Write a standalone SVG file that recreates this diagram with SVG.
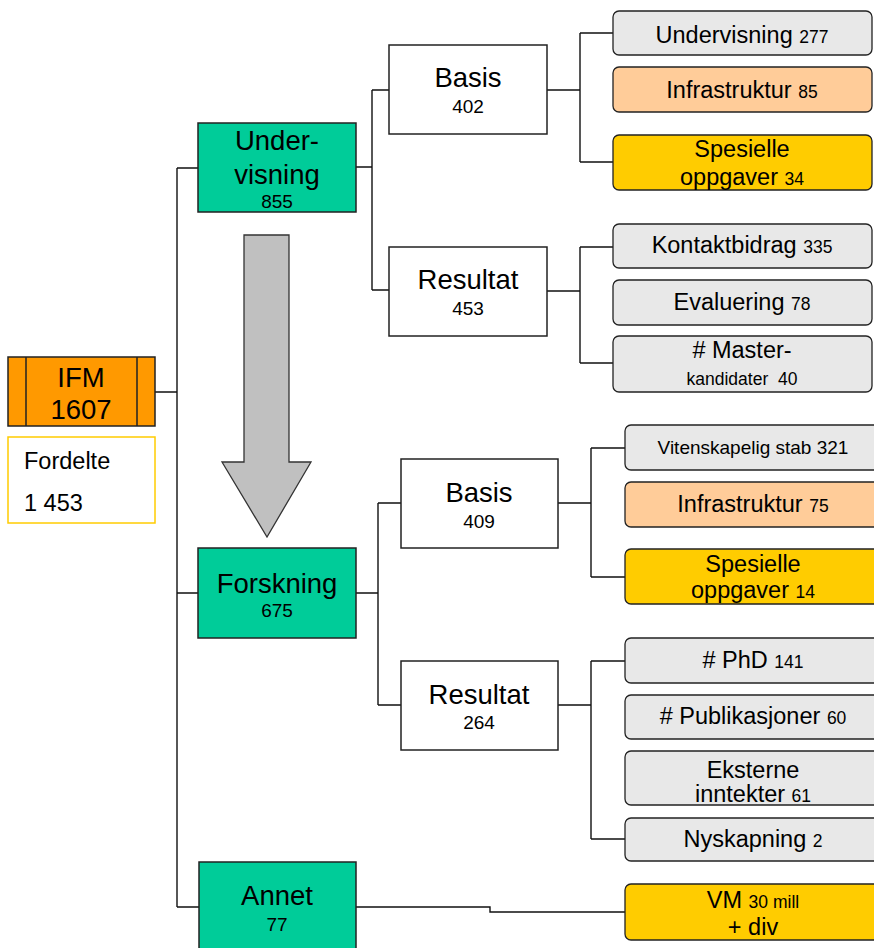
<svg xmlns="http://www.w3.org/2000/svg" width="874" height="948" viewBox="0 0 874 948">
<style>
text{font-family:"Liberation Sans",Arial,sans-serif;fill:#000;text-anchor:middle}
.big{font-size:27.5px}
.mid{font-size:23.5px}
.num{font-size:19px}
.sm{font-size:17.5px}
.box{stroke:#222;stroke-width:1.5}
.green{fill:#00CC99}
.white{fill:#fff}
.leaf{stroke:#222;stroke-width:1.3}
.gray{fill:#E8E8E8}
.peach{fill:#FFCC99}
.gold{fill:#FFCC00}
.conn path{fill:none;stroke:#111;stroke-width:1.4}
</style>
<rect width="874" height="948" fill="#fff"/>
<g id="connectors" class="conn">
<path d="M154 392H177M177 168V907M177 168H198M177 593H198M177 907H199"/>
<path d="M356 167H372M372 90V290M372 90H389M372 290H389"/>
<path d="M547 90H580M580 33V162M580 33H613M580 162H613"/>
<path d="M547 291H580M580 247V363M580 247H613M580 363H613"/>
<path d="M356 593H378M378 503V705M378 503H401M378 705H401"/>
<path d="M558 503H591M591 448V577M591 448H625M591 577H625"/>
<path d="M558 705H591M591 661V839M591 661H625M591 839H625"/>
<path d="M356 907H490V912H625"/>
</g>
<g id="arrow">
<polygon points="244,235 289,235 289,462 311,462 267,537 222,462 244,462" fill="#C0C0C0" stroke="#333" stroke-width="1.3"/>
</g>
<g id="ifm">
<rect x="8" y="357" width="147" height="69" fill="#FF9900" class="box"/>
<path d="M26 357V426M137 357V426" stroke="#222" stroke-width="1.5"/>
<text x="81" y="387" class="big">IFM</text>
<text x="81" y="419" class="big">1607</text>
</g>
<g id="fordelte">
<rect x="8" y="437" width="147" height="86" fill="#fff" stroke="#FFCC00" stroke-width="1.5"/>
<text x="24" y="469" style="font-size:23.5px;text-anchor:start">Fordelte</text>
<text x="24" y="511" style="font-size:23.5px;text-anchor:start">1 453</text>
</g>
<g id="undervisning">
<rect x="198" y="123" width="158" height="89" class="box green"/>
<text x="277" y="150" class="big">Under-</text>
<text x="277" y="184" class="big">visning</text>
<text x="277" y="208" class="num">855</text>
</g>
<g id="basis1">
<rect x="389" y="45" width="158" height="89" class="box white"/>
<text x="468" y="87" class="big">Basis</text>
<text x="468" y="113" class="num">402</text>
</g>
<g id="resultat1">
<rect x="389" y="247" width="158" height="89" class="box white"/>
<text x="468" y="289" class="big">Resultat</text>
<text x="468" y="315" class="num">453</text>
</g>
<g id="forskning">
<rect x="198" y="548" width="158" height="90" class="box green"/>
<text x="277" y="593" class="big">Forskning</text>
<text x="277" y="617" class="num">675</text>
</g>
<g id="basis2">
<rect x="401" y="459" width="157" height="89" class="box white"/>
<text x="479" y="502" class="big">Basis</text>
<text x="479" y="528" class="num">409</text>
</g>
<g id="resultat2">
<rect x="401" y="661" width="157" height="89" class="box white"/>
<text x="479" y="704" class="big">Resultat</text>
<text x="479" y="729" class="num">264</text>
</g>
<g id="annet">
<rect x="199" y="862" width="157" height="100" class="box green"/>
<text x="277" y="905" class="big">Annet</text>
<text x="277" y="931" class="num">77</text>
</g>
<g id="leaf-undervisning">
<rect x="613" y="11" width="259" height="44" rx="6" class="leaf gray"/>
<text x="742" y="43" class="mid">Undervisning <tspan class="sm">277</tspan></text>
</g>
<g id="leaf-infra85">
<rect x="613" y="67" width="259" height="45" rx="6" class="leaf peach"/>
<text x="742" y="98" class="mid">Infrastruktur <tspan class="sm">85</tspan></text>
</g>
<g id="leaf-spes34">
<rect x="613" y="135" width="259" height="55" rx="6" class="leaf gold"/>
<text x="742" y="157" class="mid">Spesielle</text>
<text x="742" y="185" class="mid">oppgaver <tspan class="sm">34</tspan></text>
</g>
<g id="leaf-kontakt">
<rect x="613" y="224" width="259" height="44" rx="6" class="leaf gray"/>
<text x="742" y="253" class="mid">Kontaktbidrag <tspan class="sm">335</tspan></text>
</g>
<g id="leaf-eval">
<rect x="613" y="280" width="259" height="45" rx="6" class="leaf gray"/>
<text x="742" y="310" class="mid">Evaluering <tspan class="sm">78</tspan></text>
</g>
<g id="leaf-master">
<rect x="613" y="336" width="259" height="56" rx="6" class="leaf gray"/>
<text x="742" y="358" class="mid"># Master-</text>
<text x="742" y="385" class="sm">kandidater&#160; 40</text>
</g>
<g id="leaf-vit">
<rect x="625" y="425" width="260" height="45" rx="6" class="leaf gray"/>
<text x="753" y="454" style="font-size:19px">Vitenskapelig stab 321</text>
</g>
<g id="leaf-infra75">
<rect x="625" y="482" width="260" height="45" rx="6" class="leaf peach"/>
<text x="753" y="512" class="mid">Infrastruktur <tspan class="sm">75</tspan></text>
</g>
<g id="leaf-spes14">
<rect x="625" y="549" width="260" height="55" rx="6" class="leaf gold"/>
<text x="753" y="572" class="mid">Spesielle</text>
<text x="753" y="598" class="mid">oppgaver <tspan class="sm">14</tspan></text>
</g>
<g id="leaf-phd">
<rect x="625" y="638" width="260" height="45" rx="6" class="leaf gray"/>
<text x="753" y="668" class="mid"># PhD <tspan class="sm">141</tspan></text>
</g>
<g id="leaf-publ">
<rect x="625" y="695" width="260" height="44" rx="6" class="leaf gray"/>
<text x="753" y="724" class="mid"># Publikasjoner <tspan class="sm">60</tspan></text>
</g>
<g id="leaf-ekst">
<rect x="625" y="751" width="260" height="54" rx="6" class="leaf gray"/>
<text x="753" y="778" class="mid">Eksterne</text>
<text x="753" y="802" class="mid">inntekter <tspan class="sm">61</tspan></text>
</g>
<g id="leaf-nysk">
<rect x="625" y="818" width="260" height="43" rx="6" class="leaf gray"/>
<text x="753" y="847" class="mid">Nyskapning <tspan class="sm">2</tspan></text>
</g>
<g id="leaf-vm">
<rect x="625" y="884" width="260" height="56" rx="6" class="leaf gold"/>
<text x="753" y="908" class="mid">VM <tspan class="sm">30 mill</tspan></text>
<text x="753" y="935" class="mid">+ div</text>
</g>
</svg>
